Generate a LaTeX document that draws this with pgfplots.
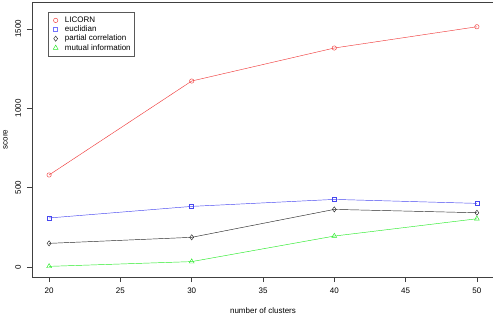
\documentclass[border=0pt]{standalone}
\usepackage{fontspec}
\setmainfont{Liberation Sans}
\usepackage{pgfplots}
\pgfplotsset{compat=1.18}
\definecolor{rred}{RGB}{240,60,60}
\definecolor{rblue}{RGB}{70,70,240}
\definecolor{rblack}{RGB}{40,40,40}
\definecolor{rgreen}{RGB}{40,235,40}
\begin{document}
\begin{tikzpicture}[x=1pt,y=1pt]
\begin{axis}[
  scale only axis,
  width=462pt, height=275pt,
  xmin=18.8, xmax=51.2, ymin=-63, ymax=1670,
  axis line style={black!75, line width=0.6pt},
  xtick={20,25,30,35,40,45,50},
  ytick={0,500,1000,1500},
  scaled y ticks=false,
  /pgf/number format/1000 sep={},
  tick align=outside,
  major tick length=5pt,
  tick style={black!75, line width=0.6pt},
  xtick pos=bottom, ytick pos=left,
  font=\fontsize{8}{9}\selectfont,
  /pgf/number format/assume math mode=true,
  xticklabel style={anchor=center, yshift=-9pt},
  yticklabel style={rotate=90, anchor=center},
  yticklabel shift=9pt,
  xlabel={number of clusters},
  ylabel={score},
  xlabel style={at={(axis description cs:0.5,-0.1225)}, anchor=center},
  ylabel style={at={(axis description cs:-0.0575,0.5)}, anchor=center},
  legend style={at={(axis description cs:0.034,0.9625)}, anchor=north west,
    draw=black!65, line width=0.5pt, font=\fontsize{8}{9}\selectfont,
    inner xsep=2pt, inner ysep=3.5pt, row sep=0.3pt,
    nodes={inner ysep=0.8pt, inner xsep=1.5pt}},
  legend cell align=left,
  legend image code/.code={\path (0pt,0pt) (13pt,0pt); \draw[#1] plot coordinates {(5.5pt,0pt)};},
  every axis plot/.append style={line width=0.45pt},
]
\coordinate (sw) at (rel axis cs:0,0);
\coordinate (ne) at (rel axis cs:1,1);
\addplot[rred, mark=o, mark size=2.2pt, mark options={solid, draw=rred}] coordinates {(20,580) (30,1172) (40,1380) (50,1514)};
\addlegendentry{LICORN}
\addplot[rblue, mark=square, mark size=2pt, mark options={solid, draw=rblue},
  legend image post style={mark options={solid, draw=blue!55, line width=0.4pt}}] coordinates {(20,309) (30,382) (40,426) (50,401)};
\addlegendentry{euclidian}
\addplot[rblack, mark=diamond, mark size=2.6pt, mark options={solid, draw=rblack}] coordinates {(20,149) (30,187) (40,363) (50,342)};
\addlegendentry{partial correlation}
\addplot[rgreen, mark=triangle, mark size=2.8pt, mark options={solid, draw=rgreen}] coordinates {(20,4) (30,34) (40,195) (50,304)};
\addlegendentry{mutual information}
\end{axis}
\pgfresetboundingbox
\useasboundingbox ([xshift=-32pt,yshift=-37pt]sw) rectangle ([xshift=-1pt,yshift=2pt]ne);
\end{tikzpicture}
\end{document}
